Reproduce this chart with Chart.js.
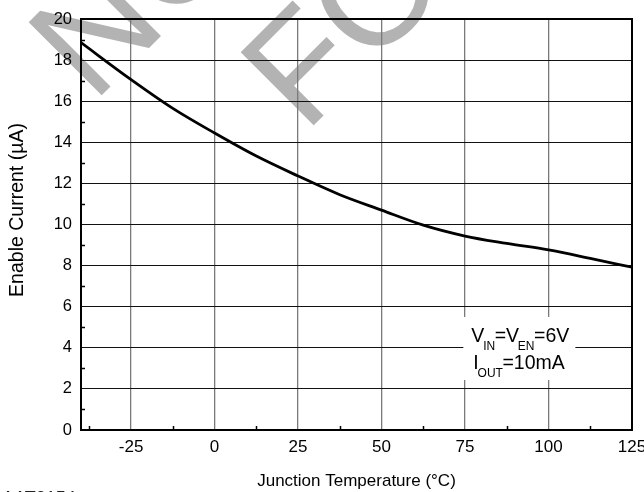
<!DOCTYPE html>
<html lang="en">
<head>
  <meta charset="UTF-8" />
  <title>Enable Current vs Junction Temperature</title>
  <script src="https://cdn.jsdelivr.net/npm/chart.js"></script>
  <style>
    body { margin: 0; background: #fff; }
    canvas { display: block; }
  </style>
</head>
<body>
  <canvas id="chart" width="644" height="492"></canvas>

  <script>
    // data
    const temps = [-40, -25, -12.5, 0, 12.5, 25, 37.5, 50, 62.5, 75, 87.5, 100, 112.5, 125];
    const current = [18.85, 17.05, 15.65, 14.45, 13.33, 12.36, 11.45, 10.7, 9.97, 9.44, 9.08, 8.76, 8.35, 7.92];
    const xTicks = [-25, 0, 25, 50, 75, 100, 125];
    const xMinor = [-37.5, -12.5, 12.5, 37.5, 62.5, 87.5, 112.5];
    const yMinor = [1, 3, 5, 7, 9, 11, 13, 15, 17, 19];

    const FONT = 'Arial, "Liberation Sans", sans-serif';

    // grey "not recommended" stamp behind the grid
    const watermark = {
      id: 'watermark',
      beforeDraw(chart) {
        const ctx = chart.ctx;
        ctx.save();
        ctx.fillStyle = '#b3b3b3';
        ctx.font = '150px ' + FONT;
        ctx.textBaseline = 'alphabetic';
        const lines = [['NOT RECOMMENDED', 93, 104], ['FOR NEW DESIGN', 305, 134]];
        lines.forEach(([t, x, y]) => {
          ctx.save();
          ctx.translate(x, y);
          ctx.rotate(-Math.PI / 4);
          ctx.fillText(t, 0, 0);
          ctx.restore();
        });
        ctx.fillStyle = '#222';
        ctx.font = '18px ' + FONT;
        ctx.textBaseline = 'top';
        ctx.fillText('AAT2154', 2, 490);
        ctx.restore();
      }
    };

    const frame = {
      id: 'frame',
      afterDatasetsDraw(chart) {
        const ctx = chart.ctx;
        const a = chart.chartArea;
        const x = chart.scales.x, y = chart.scales.y;
        ctx.save();
        // minor ticks
        ctx.strokeStyle = '#000';
        ctx.lineWidth = 1.5;
        ctx.beginPath();
        yMinor.forEach(v => {
          const py = Math.round(y.getPixelForValue(v)) + 0.5;
          ctx.moveTo(a.left, py); ctx.lineTo(a.left + 4, py);
        });
        xMinor.forEach(v => {
          const px = Math.round(x.getPixelForValue(v)) + 0.5;
          ctx.moveTo(px, a.bottom); ctx.lineTo(px, a.bottom - 4);
        });
        ctx.stroke();

        // frame
        ctx.lineWidth = 2;
        ctx.strokeRect(a.left, a.top, a.right - a.left, a.bottom - a.top);

        // y axis title (sits a little above centre in the original)
        ctx.save();
        ctx.fillStyle = '#000';
        ctx.font = '19.5px ' + FONT;
        ctx.textAlign = 'center';
        ctx.textBaseline = 'middle';
        ctx.translate(18, 210);
        ctx.rotate(-Math.PI / 2);
        ctx.fillText('Enable Current (\u00B5A)', 0, 0);
        ctx.restore();

        // conditions note
        const bx = x.getPixelForValue(74.5), by = y.getPixelForValue(5.5);
        ctx.fillStyle = '#fff';
        ctx.fillRect(bx, by, 112, 63);
        ctx.fillStyle = '#000';
        ctx.textBaseline = 'alphabetic';
        const big = '19.5px ' + FONT, small = '12px ' + FONT;
        const runs = (parts, sx, sy) => {
          let cx = sx;
          parts.forEach(([t, sub]) => {
            ctx.font = sub ? small : big;
            ctx.fillText(t, cx, sub ? sy + 8 : sy);
            cx += ctx.measureText(t).width - (sub ? 0.5 : 1.2);
          });
        };
        runs([['V'], ['IN', 1], ['=V'], ['EN', 1], ['=6V']], bx + 8, by + 25);
        runs([['I'], ['OUT', 1], ['=10mA']], bx + 10, by + 52);
        ctx.restore();
      }
    };

    new Chart(document.getElementById('chart'), {
      type: 'line',
      data: {
        datasets: [{
          data: temps.map((t, i) => ({ x: t, y: current[i] })),
          borderColor: '#000',
          borderWidth: 2.8,
          pointRadius: 0,
          fill: false,
          tension: 0.4,
          cubicInterpolationMode: 'monotone'
        }]
      },
      options: {
        responsive: false,
        animation: false,
        layout: { padding: { top: 19, right: 12, left: 0, bottom: 0 } },
        plugins: { legend: { display: false }, tooltip: { enabled: false } },
        scales: {
          x: {
            type: 'linear',
            min: -40, max: 125,
            afterBuildTicks: s => { s.ticks = xTicks.map(v => ({ value: v })); },
            afterFit: s => { s.height = 62; s.paddingLeft = 0; s.paddingRight = 0; },
            grid: { color: '#7a7a7a', lineWidth: 1.3, drawTicks: false },
            border: { display: true, color: '#000', width: 2 },
            ticks: { color: '#000', font: { family: FONT, size: 17 }, padding: 7, maxRotation: 0, autoSkip: false },
            title: {
              display: true, text: 'Junction Temperature (\u00B0C)', color: '#000',
              font: { family: FONT, size: 17 }, padding: { top: 0, bottom: 0 }
            }
          },
          y: {
            min: 0, max: 20,
            afterFit: s => { s.width = 81; s.paddingTop = 0; s.paddingBottom = 0; },
            grid: { color: '#111', lineWidth: 1, drawTicks: false },
            border: { display: true, color: '#000', width: 2 },
            ticks: { stepSize: 2, color: '#000', font: { family: FONT, size: 16.5 }, padding: 9 }
          }
        }
      },
      plugins: [watermark, frame]
    });
  </script>
</body>
</html>
